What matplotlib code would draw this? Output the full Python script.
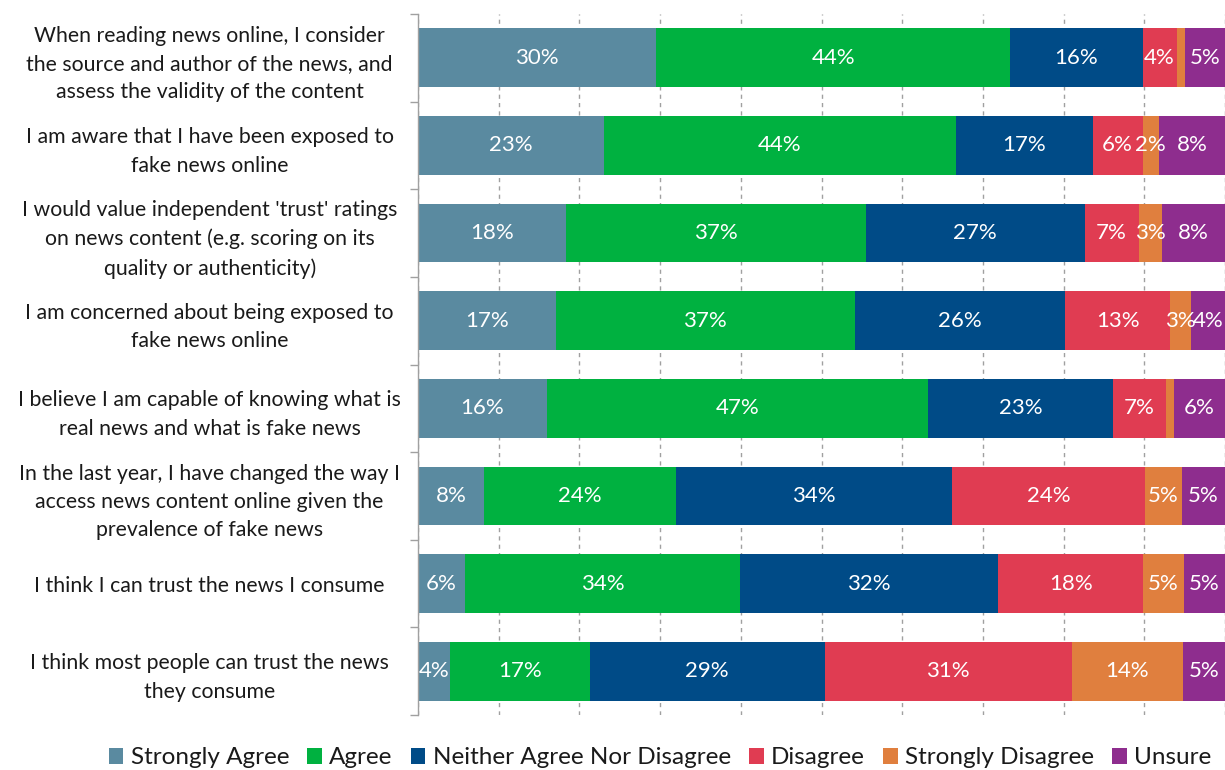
import matplotlib
matplotlib.use("Agg")
import matplotlib.pyplot as plt
from matplotlib.patches import Patch
import numpy as np

plt.rcParams['font.family'] = ['Lato', 'DejaVu Sans']

statements = [
    "When reading news online, I consider\nthe source and author of the news, and\nassess the validity of the content",
    "I am aware that I have been exposed to\nfake news online",
    "I would value independent 'trust' ratings\non news content (e.g. scoring on its\nquality or authenticity)",
    "I am concerned about being exposed to\nfake news online",
    "I believe I am capable of knowing what is\nreal news and what is fake news",
    "In the last year, I have changed the way I\naccess news content online given the\nprevalence of fake news",
    "I think I can trust the news I consume",
    "I think most people can trust the news\nthey consume",
]

responses = ["Strongly Agree", "Agree", "Neither Agree Nor Disagree",
             "Disagree", "Strongly Disagree", "Unsure"]

strongly_agree = [29.5, 23.0, 18.3, 17.1, 16.0, 8.2, 5.8, 4.0]
agree          = [43.9, 43.7, 37.2, 37.0, 47.2, 23.8, 34.1, 17.3]
neither        = [16.4, 16.9, 27.1, 26.1, 22.9, 34.2, 32.0, 29.1]
disagree       = [4.2, 6.2, 6.7, 13.0, 6.6, 23.9, 18.0, 30.6]
strongly_dis   = [1.1, 2.0, 2.9, 2.6, 1.0, 4.6, 5.0, 13.8]
unsure         = [5.0, 8.2, 7.8, 4.2, 6.3, 5.3, 5.1, 5.2]

series = [strongly_agree, agree, neither, disagree, strongly_dis, unsure]
colors = ["#5A8AA0", "#00B140", "#004B87", "#E03C52", "#E07F3E", "#8E2D8E"]

fig = plt.figure(figsize=(12.25, 7.7), dpi=100)
ax = fig.add_axes([418 / 1225, 55 / 770, 807 / 1225, 701 / 770])

y = np.arange(len(statements))
left = np.zeros(len(statements))
for vals, col in zip(series, colors):
    vals = np.array(vals)
    ax.barh(y, vals, left=left, height=0.67, color=col, zorder=2)
    for yi, (l, v) in enumerate(zip(left, vals)):
        if round(v) >= 2:
            ax.text(l + v / 2, yi, f"{round(v):.0f}%", ha="center", va="center",
                    color="white", fontsize=16, zorder=3)
    left += vals

ax.set_xlim(0, 100)
ax.set_ylim(len(statements) - 0.5, -0.5)
ax.set_yticks(y)
ax.set_yticklabels(statements, fontsize=15.3, ha="center", linespacing=1.52,
                   color="#1A1A1A")
ax.tick_params(axis="y", length=0, pad=150)
ax.set_yticks(np.arange(len(statements) + 1) - 0.5, minor=True)
ax.tick_params(axis="y", which="minor", length=6, color="#A0A0A0", width=1)

ax.set_xticks(np.arange(0, 101, 10))
ax.set_xticklabels([])
ax.tick_params(axis="x", length=0)
ax.xaxis.grid(True, linestyle=(0, (3, 3)), color="#A0A0A0", linewidth=1, zorder=0)

for side in ["top", "right", "bottom"]:
    ax.spines[side].set_visible(False)
ax.spines["left"].set_color("#A0A0A0")
ax.spines["left"].set_linewidth(1)

handles = [Patch(facecolor=c, edgecolor="none", label=r) for c, r in zip(colors, responses)]
fig.legend(handles=handles, loc="center", bbox_to_anchor=(660 / 1225, 12 / 770), ncol=6,
           frameon=False, fontsize=17.5, handlelength=0.6, handleheight=0.6,
           handletextpad=0.3, columnspacing=0.75, labelcolor="#1A1A1A")

fig.savefig("out.png", dpi=100)
